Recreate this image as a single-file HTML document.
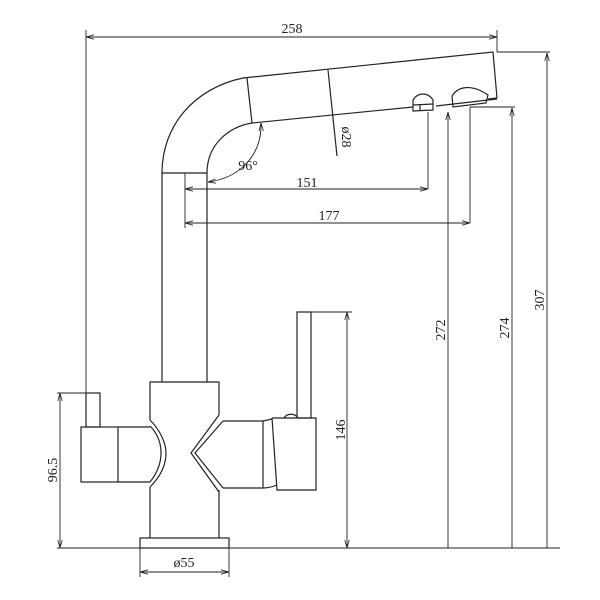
<!DOCTYPE html>
<html><head><meta charset="utf-8"><style>
html,body{margin:0;padding:0;background:#fff}
svg{display:block}
text{font-family:"Liberation Serif",serif;font-size:14px;fill:#222}
</style></head><body>
<svg width="600" height="600" viewBox="0 0 600 600" xmlns="http://www.w3.org/2000/svg">
<defs>
<marker id="a" markerWidth="8" markerHeight="6" refX="8" refY="3" orient="auto-start-reverse" markerUnits="userSpaceOnUse">
<path d="M0,0.8 L8,3 L0,5.2" fill="none" stroke="#222" stroke-width="0.8"/></marker>
</defs>
<g stroke="#222" stroke-width="1.2" fill="none">
<path d="M243,78 L493,52 L497,98"/>
<path d="M252,123 L413,107"/>
<path d="M243,78 C195,88 162,125 162,173"/>
<path d="M252,123 C228,127 207,145 207,173"/>
<line x1="247" y1="78" x2="252" y2="123"/>
<line x1="328" y1="70" x2="337" y2="156"/>
<path d="M413,100 C418,92 428,92 433,100 L433,110 L413,111 Z"/>
<line x1="413" y1="105" x2="433" y2="104"/>
<line x1="420" y1="110" x2="420" y2="105"/>
<path d="M452,96 C458,86 472,84 488,95 L486,103 L453,107 Z"/>
<line x1="436" y1="106" x2="497" y2="99"/>
<line x1="488" y1="99" x2="497" y2="98"/>
<line x1="162" y1="173" x2="162" y2="382"/>
<line x1="207" y1="173" x2="207" y2="382"/>
<line x1="162" y1="173" x2="207" y2="173"/>
<path d="M150,420 L150,382 L219,382 L219,415"/>
<path d="M150,487 L150,538 M219,490 L219,538"/>
<path d="M150,420 C160,430 166,443 166,453 C166,465 160,477 150,487"/>
<path d="M150,426 C158,434 161,444 161,453 C161,463 158,472 150,482"/>
<path d="M219,415 L191,453 L219,492"/>
<path d="M223,421 L195,453 L223,488"/>
<rect x="140" y="538" width="89" height="10"/>
<rect x="81" y="427" width="37" height="55"/>
<path d="M118,427 L150,427 M118,482 L150,482"/>
<rect x="86" y="393" width="14" height="34"/>
<path d="M223,421 L263,421 L263,488 L223,488"/>
<path d="M263,421 L272,419 M263,488 C268,488 272,487 277,485"/>
<path d="M272,418 L316,418 L316,490 L277,490 L272,418"/>
<rect x="297" y="312" width="14" height="106"/>
<path d="M284,418 C287,413 295,413 298,418"/>
</g>
<g stroke="#222" stroke-width="0.9" fill="none">
<line x1="86" y1="30" x2="86" y2="393"/>
<line x1="497" y1="30" x2="497" y2="52"/>
<line x1="86" y1="37" x2="497" y2="37" marker-start="url(#a)" marker-end="url(#a)"/>
<line x1="185" y1="173" x2="185" y2="228"/>
<line x1="428" y1="112" x2="428" y2="189"/>
<line x1="185" y1="189" x2="428" y2="189" marker-start="url(#a)" marker-end="url(#a)"/>
<line x1="470" y1="107" x2="470" y2="223"/>
<line x1="185" y1="223" x2="470" y2="223" marker-start="url(#a)" marker-end="url(#a)"/>
<path d="M261,123 C262,155 240,178 208,182" marker-start="url(#a)" marker-end="url(#a)"/>
<line x1="448" y1="548" x2="448" y2="112" marker-end="url(#a)"/>
<line x1="470" y1="107" x2="515" y2="107"/>
<line x1="512" y1="548" x2="512" y2="108" marker-end="url(#a)"/>
<line x1="497" y1="52" x2="550" y2="52"/>
<line x1="547" y1="548" x2="547" y2="53" marker-end="url(#a)"/>
<line x1="311" y1="312" x2="352" y2="312"/>
<line x1="347" y1="312" x2="347" y2="548" marker-start="url(#a)" marker-end="url(#a)"/>
<line x1="57" y1="393" x2="100" y2="393"/>
<line x1="60" y1="393" x2="60" y2="548" marker-start="url(#a)" marker-end="url(#a)"/>
<line x1="57" y1="548" x2="560" y2="548"/>
<line x1="140" y1="548" x2="140" y2="577"/>
<line x1="229" y1="548" x2="229" y2="577"/>
<line x1="140" y1="572" x2="229" y2="572" marker-start="url(#a)" marker-end="url(#a)"/>
</g>
<text x="292" y="33" text-anchor="middle">258</text>
<text x="307" y="187" text-anchor="middle">151</text>
<text x="329" y="220" text-anchor="middle">177</text>
<text x="248" y="170" text-anchor="middle">96°</text>
<text transform="translate(342,137) rotate(90)" text-anchor="middle">ø28</text>
<text transform="translate(445,330) rotate(-90)" text-anchor="middle">272</text>
<text transform="translate(509,328) rotate(-90)" text-anchor="middle">274</text>
<text transform="translate(544,300) rotate(-90)" text-anchor="middle">307</text>
<text transform="translate(345,430) rotate(-90)" text-anchor="middle">146</text>
<text transform="translate(57,470) rotate(-90)" text-anchor="middle">96.5</text>
<text x="184" y="567" text-anchor="middle">ø55</text>
</svg>
</body></html>
